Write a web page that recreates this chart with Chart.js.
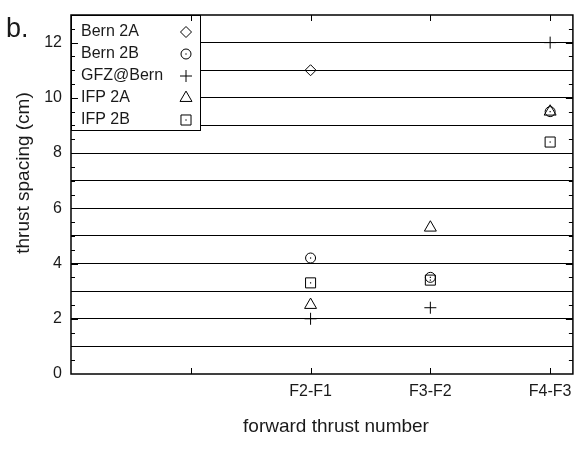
<!DOCTYPE html>
<html>
<head>
<meta charset="utf-8">
<script src="https://cdn.jsdelivr.net/npm/chart.js@4.4.1/dist/chart.umd.min.js"></script>
<style>
  html, body { margin: 0; padding: 0; background: #fff; }
</style>
</head>
<body>
<canvas id="thrustChart" width="581" height="451"></canvas>
<script>
// data
const categories = ['F2-F1', 'F3-F2', 'F4-F3'];
const seriesNames = ['Bern 2A', 'Bern 2B', 'GFZ@Bern', 'IFP 2A', 'IFP 2B'];
const bern2A = [11.0, null, null];
const bern2B = [4.2, 3.5, 9.5];
const gfzBern = [2.0, 2.4, 12.0];
const ifp2A = [2.5, 5.3, 9.5];
const ifp2B = [3.3, 3.4, 8.4];
const yTickLabels = [0, 2, 4, 6, 8, 10, 12];

const FONT = '"Liberation Sans", Arial, Helvetica, sans-serif';
const INK = '#1a1a1a';
const CAT_OFFSET = 2; // first category sits at x = 2 on the axis

// gnuplot-ish open symbols, built from Chart.js point styles
const markerStyles = [
  { pointStyle: 'rectRot', radius: 5.5, dot: false },
  { pointStyle: 'circle', radius: 5, dot: true },
  { pointStyle: 'cross', radius: 6, dot: false },
  { pointStyle: 'triangle', radius: 6.9, dot: false },
  { pointStyle: 'rect', radius: 7.1, dot: true }
];

function toPoints(values) {
  const pts = [];
  values.forEach((v, i) => {
    if (v !== null) pts.push({ x: i + CAT_OFFSET, y: v });
  });
  return pts;
}

const allSeries = [bern2A, bern2B, gfzBern, ifp2A, ifp2B];

function drawSymbol(ctx, i, x, y) {
  const m = markerStyles[i];
  ctx.save();
  ctx.strokeStyle = '#000';
  ctx.fillStyle = 'rgba(0,0,0,0)';
  ctx.lineWidth = 1;
  Chart.helpers.drawPoint(ctx, { pointStyle: m.pointStyle, radius: m.radius, borderWidth: 1, rotation: 0 }, x, y);
  if (m.dot) {
    ctx.fillStyle = '#000';
    ctx.fillRect(x - 0.6, y - 0.6, 1.2, 1.2);
  }
  ctx.restore();
}

// centre dots of the circle and square symbols
const symbolDots = {
  id: 'symbolDots',
  afterDatasetsDraw(chart) {
    const ctx = chart.ctx;
    chart.data.datasets.forEach((ds, i) => {
      if (!markerStyles[i].dot) return;
      chart.getDatasetMeta(i).data.forEach(pt => {
        ctx.fillStyle = '#000';
        ctx.fillRect(pt.x - 0.6, pt.y - 0.6, 1.2, 1.2);
      });
    });
  }
};

// frame, inward ticks, legend box and free text
const decorations = {
  id: 'decorations',
  afterDraw(chart) {
    const ctx = chart.ctx;
    const area = chart.chartArea;
    const xs = chart.scales.x;
    const ys = chart.scales.y;

    // legend box in the upper left corner
    const lw = 129, lh = 115;
    ctx.save();
    ctx.fillStyle = '#fff';
    ctx.fillRect(area.left, area.top, lw, lh);
    ctx.strokeStyle = '#000';
    ctx.lineWidth = 1;
    ctx.strokeRect(area.left + 0.5, area.top + 0.5, lw, lh);
    ctx.font = '16px ' + FONT;
    ctx.fillStyle = INK;
    ctx.textBaseline = 'middle';
    ctx.textAlign = 'left';
    seriesNames.forEach((name, i) => {
      const y = area.top + 17 + i * 22;
      ctx.fillText(name, area.left + 10, y);
      drawSymbol(ctx, i, area.left + 115, y);
    });
    ctx.restore();

    // plot frame
    ctx.save();
    ctx.strokeStyle = '#000';
    ctx.lineWidth = 1.5;
    ctx.strokeRect(area.left, area.top, area.right - area.left, area.bottom - area.top);

    // inward ticks
    ctx.lineWidth = 1;
    ctx.beginPath();
    for (let v = 0.5; v < 13; v += 0.5) {
      const py = Math.round(ys.getPixelForValue(v)) + 0.5;
      const len = v % 2 === 0 ? 7 : 4;
      ctx.moveTo(area.left, py); ctx.lineTo(area.left + len, py);
      ctx.moveTo(area.right, py); ctx.lineTo(area.right - len, py);
    }
    for (let v = 1; v <= 4; v++) {
      const px = Math.round(xs.getPixelForValue(v)) + 0.5;
      ctx.moveTo(px, area.bottom); ctx.lineTo(px, area.bottom - 6);
      ctx.moveTo(px, area.top); ctx.lineTo(px, area.top + 6);
    }
    ctx.stroke();
    ctx.restore();

    // axis titles and panel letter
    ctx.save();
    ctx.fillStyle = INK;
    ctx.font = '19px ' + FONT;
    ctx.textAlign = 'center';
    ctx.textBaseline = 'middle';
    ctx.fillText('forward thrust number', 336, 427);
    ctx.translate(24, 173);
    ctx.rotate(-Math.PI / 2);
    ctx.fillText('thrust spacing (cm)', 0, 0);
    ctx.restore();

    ctx.save();
    ctx.fillStyle = INK;
    ctx.font = '27px ' + FONT;
    ctx.textAlign = 'left';
    ctx.textBaseline = 'alphabetic';
    ctx.fillText('b.', 6, 37);
    ctx.restore();
  }
};

const chart = new Chart(document.getElementById('thrustChart'), {
  type: 'scatter',
  data: {
    datasets: allSeries.map((values, i) => ({
      label: seriesNames[i],
      data: toPoints(values),
      pointStyle: markerStyles[i].pointStyle,
      pointRadius: markerStyles[i].radius,
      pointBorderWidth: 1,
      pointBorderColor: '#000',
      pointBackgroundColor: 'rgba(0,0,0,0)',
      showLine: false
    }))
  },
  options: {
    responsive: false,
    animation: false,
    events: [],
    layout: { padding: { top: 15, right: 2, left: 0, bottom: 0 } },
    plugins: {
      legend: { display: false },
      tooltip: { enabled: false }
    },
    scales: {
      x: {
        type: 'linear',
        min: 0,
        max: 4.19,
        afterBuildTicks: s => { s.ticks = [0, 1, 2, 3, 4].map(v => ({ value: v })); },
        afterFit: s => { s.height = 77; s.paddingLeft = 0; s.paddingRight = 0; },
        grid: { display: false, drawTicks: false },
        border: { display: false },
        ticks: {
          autoSkip: false,
          maxRotation: 0,
          padding: 8,
          color: INK,
          font: { family: FONT, size: 16 },
          callback: v => categories[v - CAT_OFFSET] ?? ''
        }
      },
      y: {
        type: 'linear',
        min: 0,
        max: 13,
        afterFit: s => { s.width = 71; s.paddingTop = 0; s.paddingBottom = 0; },
        grid: {
          drawTicks: false,
          lineWidth: 1,
          color: c => (c.tick && c.tick.value > 0 && c.tick.value < 13) ? '#000' : 'rgba(0,0,0,0)'
        },
        border: { display: false },
        ticks: {
          stepSize: 1,
          autoSkip: false,
          padding: 9,
          color: INK,
          font: { family: FONT, size: 16 },
          callback: v => yTickLabels.includes(v) ? String(v) : ''
        }
      }
    }
  },
  plugins: [symbolDots, decorations]
});
</script>
</body>
</html>
